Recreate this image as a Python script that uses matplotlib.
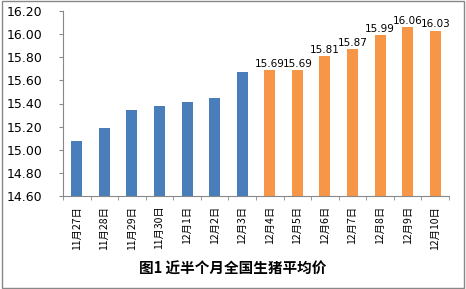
import matplotlib
matplotlib.use("Agg")
import matplotlib.pyplot as plt
from matplotlib.patches import Rectangle

plt.rcParams['font.family'] = ['Noto Sans CJK SC', 'DejaVu Sans']

categories = ["11月27日", "11月28日", "11月29日", "11月30日", "12月1日", "12月2日", "12月3日",
              "12月4日", "12月5日", "12月6日", "12月7日", "12月8日", "12月9日", "12月10日"]
values = [15.08, 15.19, 15.34, 15.38, 15.41, 15.45, 15.67,
          15.69, 15.69, 15.81, 15.87, 15.99, 16.06, 16.03]
colors_series = ["#4a7ebb"] * 7 + ["#f79646"] * 7
label_flags = [False] * 7 + [True] * 7
yticks = [14.60, 14.80, 15.00, 15.20, 15.40, 15.60, 15.80, 16.00, 16.20]
title = "图1 近半个月全国生猪平均价"

fig = plt.figure(figsize=(4.66, 2.89), dpi=100)
ax = fig.add_axes([63/466, 1 - 196/289, (449-63)/466, (196-11)/289])

x = list(range(len(categories)))
ax.bar(x, values, width=0.4, color=colors_series, bottom=0)
ax.set_ylim(14.60, 16.20)
ax.set_xlim(-0.5, len(categories) - 0.5)
ax.set_yticks(yticks)
ax.set_yticklabels([f"{v:.2f}" for v in yticks], fontsize=9, family='DejaVu Sans')
ax.set_xticks(x)
ax.set_xticklabels(categories, rotation=90, fontsize=7.5)
ax.tick_params(axis='x', length=0, pad=7)
ax.tick_params(axis='y', length=3, color='#888888', pad=12)
ax.set_xticks([i + 0.5 for i in range(-1, len(categories))], minor=True)
ax.tick_params(axis='x', which='minor', length=3, color='#888888')

for i, (v, f) in enumerate(zip(values, label_flags)):
    if f:
        ax.text(i, v + 0.01, f"{v:.2f}", ha='center', va='bottom', fontsize=7.5, family='DejaVu Sans')

for s in ['top', 'right']:
    ax.spines[s].set_visible(False)
for s in ['left', 'bottom']:
    ax.spines[s].set_color('#888888')

fig.text(0.5, 1 - 269/289, title, ha='center', va='center', fontsize=10.5, fontweight='bold')
fig.patches.append(Rectangle((0.004, 0.004), 0.992, 0.992, transform=fig.transFigure,
                             fill=False, edgecolor='#888888', linewidth=1))

fig.savefig("out.png", dpi=100)
